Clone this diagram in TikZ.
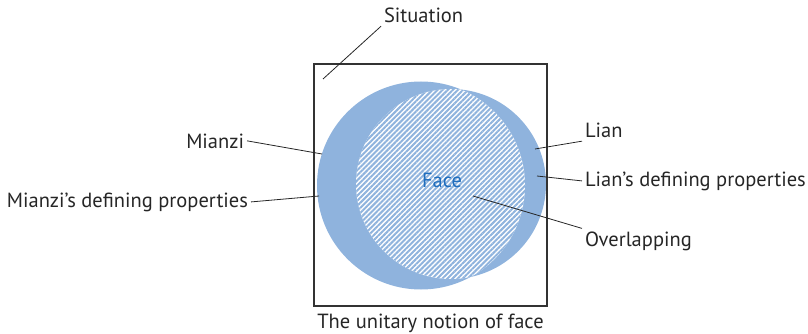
\documentclass[tikz,border=0pt]{standalone}
\usepackage{fontspec}
\setmainfont{PT Sans}
\usetikzlibrary{patterns.meta, positioning}

\definecolor{circblue}{RGB}{143,179,221}
\definecolor{faceblue}{RGB}{31,110,190}

\begin{document}
\begin{tikzpicture}[
    x=1pt, y=-1pt,
    font=\fontsize{20.5}{24}\selectfont,
    lbl/.style={inner sep=0pt, outer sep=3pt, text=black!85},
    lead/.style={draw=black!85, line width=0.8pt},
    frame/.style={draw=black!80, line width=1.2pt}
  ]
  \useasboundingbox (0,0) rectangle (808,334);
  % circles
  \fill[circblue] (421,185.5) circle (104);
  \fill[circblue] (451,184) circle (95);
  \begin{scope}
    \clip (421,185.5) circle (104);
    \fill[white] (451,184) circle (95);
    \fill[pattern={Lines[angle=45, distance=3.6pt, line width=2pt]}, pattern color=circblue]
      (451,184) circle (95);
  \end{scope}
  \draw[frame] (314,64) rectangle (547,306);
  % labels
  \node[lbl, anchor=base west] (sit)    at (381,23)  {Situation};
  \node[lbl, anchor=base east] (mianzi) at (247,148) {Mianzi};
  \node[lbl, anchor=base east] (mdef)   at (251,207) {Mianzi’s defining properties};
  \node[lbl, anchor=base west] (lian)   at (582,138) {Lian};
  \node[lbl, anchor=base west] (ldef)   at (582,186) {Lian’s defining properties};
  \node[lbl, anchor=base west] (over)   at (582,246) {Overlapping};
  \node[lbl, anchor=base, text=faceblue] (face) at (442,187) {Face};
  \node[lbl, anchor=base] (title) at (430.5,328) {The unitary notion of face};
  % leader ends
  \coordinate (sitpt)    at (323,79);
  \coordinate (mianzipt) at (322,154);
  \coordinate (mdefpt)   at (319,196);
  \coordinate (lianpt)   at (535,149);
  \coordinate (ldefpt)   at (537,176);
  \coordinate (overpt)   at (473,196);
  \draw[lead] (sit.south west) -- (sitpt);
  \draw[lead] (mianzi.east) -- (mianzipt);
  \draw[lead] (mdef.east) -- (mdefpt);
  \draw[lead] (lian.south west) -- (lianpt);
  \draw[lead] (ldef.west) -- (ldefpt);
  \draw[lead] (over.north west) -- (overpt);
\end{tikzpicture}
\end{document}
